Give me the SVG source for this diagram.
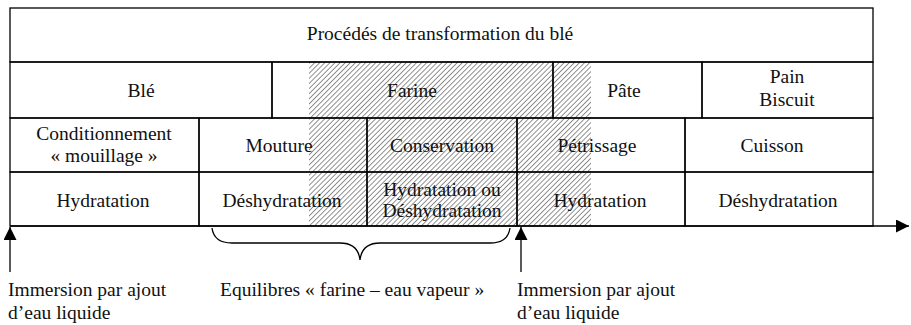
<svg xmlns="http://www.w3.org/2000/svg" width="911" height="325" viewBox="0 0 911 325">
<style>
.cell{fill:none;stroke:#000;stroke-width:1.3}
.t{font-family:"Liberation Serif","Times New Roman",serif;font-size:19.5px;fill:#111;text-anchor:middle}
.tl{font-family:"Liberation Serif","Times New Roman",serif;font-size:19.5px;fill:#111}
.ln{fill:none;stroke:#000;stroke-width:1.3}
</style>
<defs>
<pattern id="hatch" width="3.6" height="3.6" patternUnits="userSpaceOnUse" patternTransform="rotate(45)">
<line x1="0" y1="0" x2="0" y2="3.6" stroke="#222" stroke-width="1"/>
</pattern>
<marker id="ah" viewBox="0 0 10 10" refX="10" refY="5" markerWidth="14" markerHeight="13" markerUnits="userSpaceOnUse" orient="auto">
<path d="M0,0 L10,5 L0,10 Z" fill="#000"/>
</marker>
</defs>
<rect x="0" y="0" width="911" height="325" fill="#fff"/>
<rect id="hatch-area" x="309" y="62" width="282" height="164" fill="url(#hatch)"/>
<g id="title"><rect class="cell" x="10" y="8" width="863" height="54"/><text class="t" x="440" y="40" font-size="20">Procédés de transformation du blé</text></g>
<g id="ble"><rect class="cell" x="10" y="62" width="262" height="56"/><text class="t" x="141" y="97">Blé</text></g>
<g id="farine"><rect class="cell" x="272" y="62" width="281" height="56"/><text class="t" x="412" y="97">Farine</text></g>
<g id="pate"><rect class="cell" x="553" y="62" width="149" height="56"/><text class="t" x="624" y="97">Pâte</text></g>
<g id="pain"><rect class="cell" x="702" y="62" width="171" height="56"/><text class="t" x="787" y="83">Pain</text><text class="t" x="787" y="106">Biscuit</text></g>
<g id="conditionnement"><rect class="cell" x="10" y="118" width="189" height="54"/><text class="t" x="104" y="140">Conditionnement</text><text class="t" x="104" y="162">« mouillage »</text></g>
<g id="mouture"><rect class="cell" x="199" y="118" width="168" height="54"/><text class="t" x="279" y="152">Mouture</text></g>
<g id="conservation"><rect class="cell" x="367" y="118" width="150" height="54"/><text class="t" x="442" y="152">Conservation</text></g>
<g id="petrissage"><rect class="cell" x="517" y="118" width="168" height="54"/><text class="t" x="597" y="152">Pétrissage</text></g>
<g id="cuisson"><rect class="cell" x="685" y="118" width="188" height="54"/><text class="t" x="772" y="152">Cuisson</text></g>
<g id="hydratation1"><rect class="cell" x="10" y="172" width="189" height="54"/><text class="t" x="103" y="207">Hydratation</text></g>
<g id="deshydratation1"><rect class="cell" x="199" y="172" width="168" height="54"/><text class="t" x="282" y="207">Déshydratation</text></g>
<g id="hydr-ou-deshydr"><rect class="cell" x="367" y="172" width="150" height="54"/><text class="t" x="442" y="196">Hydratation ou</text><text class="t" x="442" y="217">Déshydratation</text></g>
<g id="hydratation2"><rect class="cell" x="517" y="172" width="168" height="54"/><text class="t" x="600" y="207">Hydratation</text></g>
<g id="deshydratation2"><rect class="cell" x="685" y="172" width="188" height="54"/><text class="t" x="778" y="207">Déshydratation</text></g>
<g id="connectors">
<line class="ln" x1="10" y1="226" x2="909" y2="226" marker-end="url(#ah)"/>
<line class="ln" x1="10" y1="272" x2="10" y2="227" marker-end="url(#ah)"/>
<line class="ln" x1="521" y1="272" x2="521" y2="227" marker-end="url(#ah)"/>
<path class="ln" d="M212,228 Q214,243 232,243 L340,243 Q358,243 360,260 Q362,243 380,243 L490,243 Q508,243 510,228"/>
</g>
<g id="label-immersion1"><text class="tl" x="8" y="296">Immersion par ajout</text><text class="tl" x="8" y="319">d’eau liquide</text></g>
<g id="label-equilibres"><text class="tl" x="220" y="296">Equilibres « farine – eau vapeur »</text></g>
<g id="label-immersion2"><text class="tl" x="517" y="296">Immersion par ajout</text><text class="tl" x="517" y="319">d’eau liquide</text></g>
</svg>
